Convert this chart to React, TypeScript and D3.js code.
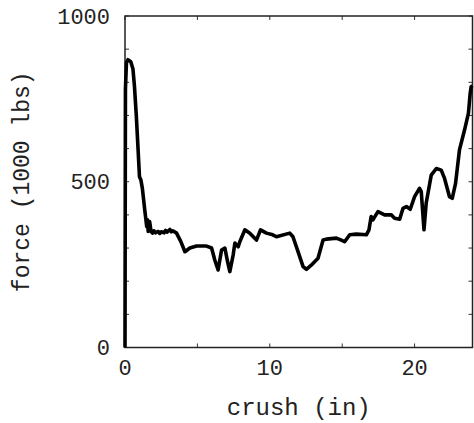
import React from "react";
import * as d3 from "d3";

// crush (in) vs force (1000 lbs)
const crush = [
  0, 0.03, 0.1, 0.2, 0.4, 0.55, 0.65, 0.78, 0.9, 1.0, 1.1, 1.2, 1.35, 1.5, 1.55, 1.6, 1.7, 1.8,
  1.9, 2.0, 2.1, 2.3, 2.4, 2.5, 2.7, 2.8, 2.9, 3.1, 3.2, 3.3, 3.56, 3.85, 4.14, 4.48, 4.94,
  5.63, 5.98, 6.2, 6.43, 6.67, 6.9, 7.06, 7.24, 7.47, 7.59, 7.82, 7.93, 8.28, 8.62, 9.08, 9.36,
  9.77, 10.2, 10.46, 11.38, 11.6, 11.95, 12.3, 12.53, 12.88, 13.33, 13.68, 13.91, 14.6, 14.94,
  15.17, 15.52, 15.98, 16.67, 16.85, 17.0, 17.12, 17.47, 17.93, 18.39, 18.62, 18.97, 19.2,
  19.43, 19.7, 20.0, 20.34, 20.46, 20.65, 20.8, 21.15, 21.5, 21.84, 22.07, 22.41, 22.6, 22.83,
  23.1, 23.45, 23.72, 23.84, 23.91, 24.0,
];
const force = [
  0, 780, 860, 868, 862, 840, 790, 700, 600, 515, 505, 480, 420, 365, 385, 350, 380, 350,
  345, 352, 346, 350, 344, 349, 346, 353, 348, 356, 349, 352, 345, 320, 289, 300, 306, 306,
  300, 264, 234, 294, 300, 264, 229, 279, 315, 304, 319, 355, 345, 324, 355, 345, 340, 334,
  345, 334, 289, 244, 236, 249, 269, 324, 327, 330, 324, 319, 340, 342, 340, 355, 395, 385,
  410, 400, 400, 390, 387, 420, 425, 417, 455, 480, 470, 355, 435, 520, 540, 535, 510, 455,
  450, 495, 596, 656, 707, 767, 787, 790,
];

const xTicks = [0, 10, 20];
const xMinor = [5, 15];
const yTicks = [0, 500, 1000];
const yMinor = [100, 200, 300, 400, 600, 700, 800, 900];

const width = 474;
const height = 423;
const margin = { top: 16, right: 1.5, bottom: 75.5, left: 125 };
const font = "'Liberation Mono', monospace";

export default function App() {
  const x = d3.scaleLinear().domain([0, 24]).range([margin.left, width - margin.right]);
  const y = d3.scaleLinear().domain([0, 1000]).range([height - margin.bottom, margin.top]);
  const pts: [number, number][] = crush.map((c, i) => [c, force[i]]);
  const line = d3
    .line<[number, number]>()
    .x((d) => x(d[0]))
    .y((d) => y(d[1]));

  const x0 = x(0);
  const x1 = x(24);
  const y0 = y(0);
  const y1 = y(1000);
  const tk = 4;

  return (
    <svg
      width={width}
      height={height}
      style={{ position: "absolute", left: 0, top: 0, background: "white" }}
    >
      {/* ticks */}
      {[...xTicks, ...xMinor].map((t) => (
        <g key={"x" + t} stroke="#333" strokeWidth={1}>
          <line x1={x(t)} x2={x(t)} y1={y0} y2={y0 - tk} />
          <line x1={x(t)} x2={x(t)} y1={y1} y2={y1 + tk} />
        </g>
      ))}
      {[...yTicks, ...yMinor].map((t) => (
        <g key={"y" + t} stroke="#333" strokeWidth={1}>
          <line x1={x0} x2={x0 + tk} y1={y(t)} y2={y(t)} />
          <line x1={x1} x2={x1 - tk} y1={y(t)} y2={y(t)} />
        </g>
      ))}
      <rect
        x={x0}
        y={y1}
        width={x1 - x0}
        height={y0 - y1}
        fill="none"
        stroke="#222"
        strokeWidth={1.5}
      />
      <path
        d={line(pts) ?? ""}
        fill="none"
        stroke="#000"
        strokeWidth={3.6}
        strokeLinejoin="round"
      />
      {/* tick labels */}
      {xTicks.map((t) => (
        <text
          key={"xl" + t}
          x={x(t)}
          y={375}
          textAnchor="middle"
          fontFamily={font}
          fontSize={22}
          fill="#222"
        >
          {t}
        </text>
      ))}
      {yTicks.map((t) => (
        <text
          key={"yl" + t}
          x={110}
          y={y(t)}
          dy="0.35em"
          textAnchor="end"
          fontFamily={font}
          fontSize={22}
          fill="#222"
        >
          {t}
        </text>
      ))}
      <text
        x={(x0 + x1) / 2}
        y={415}
        textAnchor="middle"
        fontFamily={font}
        fontSize={24}
        fill="#222"
      >
        crush (in)
      </text>
      <text
        transform={`translate(29,${(y0 + y1) / 2}) rotate(-90)`}
        textAnchor="middle"
        fontFamily={font}
        fontSize={23}
        fill="#222"
      >
        force (1000 lbs)
      </text>
    </svg>
  );
}
